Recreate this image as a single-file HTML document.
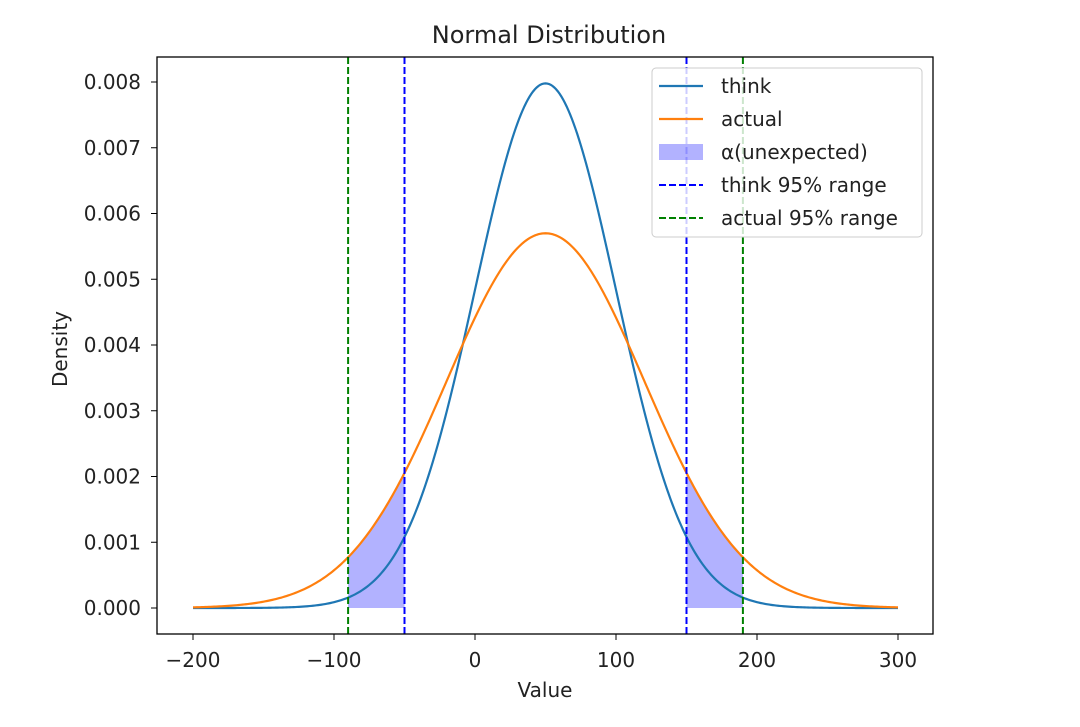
<!DOCTYPE html>
<html><head><meta charset="utf-8"><style>
body{margin:0;background:#fff;width:1080px;height:722px;overflow:hidden}
svg text{font-family:"DejaVu Sans","Liberation Sans",sans-serif;fill:#222}
</style></head><body>
<svg id="c" width="1080" height="722"></svg>
<script>
const seriesNames=["think","actual"];
const means=[50,50];
const sds=[50,70];
const seriesColors=["#1f77b4","#ff7f0e"];
const rangeLabels=["think 95% range","actual 95% range"];
const rangeBounds=[[-50,150],[-90,190]];
const rangeColors=["#0000ff","#008000"];
const xTicks=[-200,-100,0,100,200,300];
const yTicks=[0,0.001,0.002,0.003,0.004,0.005,0.006,0.007,0.008];
const xDomain=[-200,300];
const L=157,R=933,T=57,B=634;
const sx=v=>193+(v+200)*(898-193)/500;
const sy=v=>608-v*(608-82)/0.008;
const pdf=(x,m,s)=>Math.exp(-0.5*((x-m)/s)**2)/(s*Math.sqrt(2*Math.PI));
const svg=document.getElementById('c');const NS="http://www.w3.org/2000/svg";
function mk(t,a,p){const e=document.createElementNS(NS,t);for(const k in a)e.setAttribute(k,a[k]);(p||svg).appendChild(e);return e;}
[[rangeBounds[1][0],rangeBounds[0][0]],[rangeBounds[0][1],rangeBounds[1][1]]].forEach((r,i)=>{
 let d="M"+sx(r[0])+","+sy(0);
 for(let k=0;k<=60;k++){const x=r[0]+(r[1]-r[0])*k/60;d+=" L"+sx(x)+","+sy(pdf(x,means[1],sds[1]));}
 d+=" L"+sx(r[1])+","+sy(0)+"Z";
 const p=mk('path',{d:d,fill:"#0000ff","fill-opacity":0.3,stroke:"none"});
 
 
});
seriesNames.forEach((n,i)=>{
 let d="";for(let k=0;k<=400;k++){const x=xDomain[0]+(xDomain[1]-xDomain[0])*k/400;d+=(k?" L":"M")+sx(x).toFixed(2)+","+sy(pdf(x,means[i],sds[i])).toFixed(2);}
 const p=mk('path',{d:d,fill:"none",stroke:seriesColors[i],"stroke-width":2.2});
 
 
});
rangeBounds.forEach((b,i)=>b.forEach((v,j)=>{
 const l=mk('line',{x1:sx(v),x2:sx(v),y1:T,y2:B,stroke:rangeColors[i],"stroke-width":2,"stroke-dasharray":"7,3"});
 
 
}));
const fr=mk('rect',{x:L,y:T,width:R-L,height:B-T,fill:"none",stroke:"#000","stroke-width":1.3});


xTicks.forEach(v=>{mk('line',{x1:sx(v),x2:sx(v),y1:B,y2:B+6,stroke:"#000"});
 const t=mk('text',{x:sx(v),y:B+33,"text-anchor":"middle","font-size":20});t.textContent=v<0?"\u2212"+(-v):v;
 
 });
yTicks.forEach(v=>{mk('line',{x1:L-6,x2:L,y1:sy(v),y2:sy(v),stroke:"#000"});
 const t=mk('text',{x:L-16,y:sy(v)+7,"text-anchor":"end","font-size":20});t.textContent=v.toFixed(3);
 
 });
let t=mk('text',{x:545,y:697,"text-anchor":"middle","font-size":20});t.textContent="Value";

t=mk('text',{x:67,y:349,"text-anchor":"middle","font-size":20,transform:"rotate(-90 67 349)"});t.textContent="Density";

t=mk('text',{x:549,y:43,"text-anchor":"middle","font-size":24});t.textContent="Normal Distribution";

const g=mk('g',{});
mk('rect',{x:652,y:68,width:270,height:169,rx:4,fill:"#fff","fill-opacity":0.8,stroke:"#ccc"},g);
const labels=[seriesNames[0],seriesNames[1],"\u03b1(unexpected)",rangeLabels[0],rangeLabels[1]];
labels.forEach((lb,i)=>{const y=86+i*33;
 if(i<2)mk('line',{x1:659,x2:703,y1:y,y2:y,stroke:seriesColors[i],"stroke-width":2.2},g);
 else if(i==2)mk('rect',{x:659,y:y-8,width:44,height:16,fill:"#0000ff","fill-opacity":0.3},g);
 else mk('line',{x1:659,x2:703,y1:y,y2:y,stroke:rangeColors[i-3],"stroke-width":2,"stroke-dasharray":"7,3"},g);
 const tx=mk('text',{x:721,y:y+7,"font-size":20},g);tx.textContent=lb;
 
 
});
</script>
</body></html>
